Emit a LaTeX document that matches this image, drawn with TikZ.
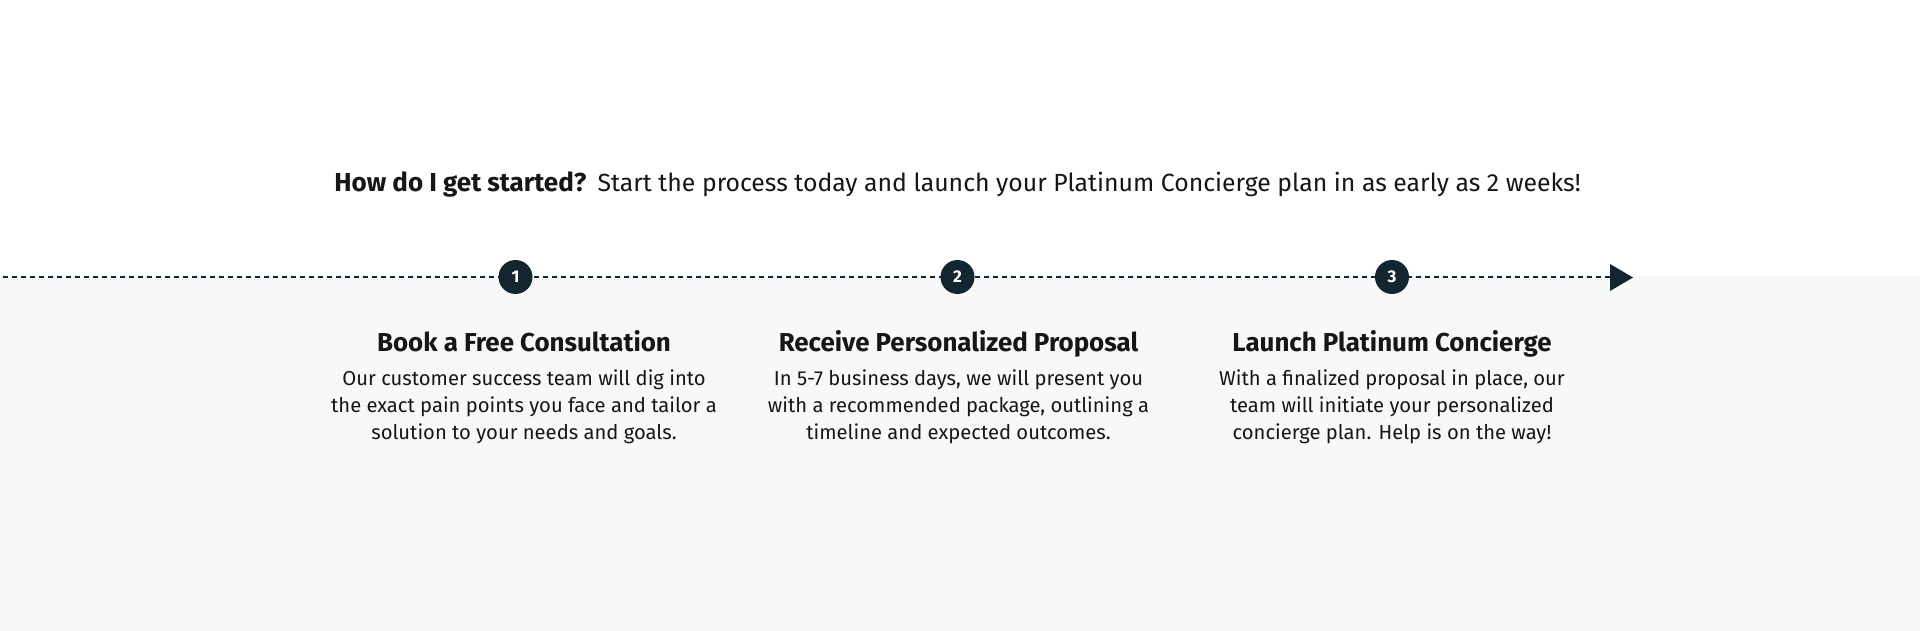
\documentclass[tikz,border=0pt]{standalone}
\usepackage{fontspec}
\setmainfont{Fira Sans}
\usetikzlibrary{positioning}
\definecolor{ink}{HTML}{161616}
\definecolor{navy}{HTML}{13262F}
\definecolor{pale}{HTML}{F7F9F9}
\begin{document}
\begin{tikzpicture}[x=1pt,y=-1pt,
  title/.style={font=\fontsize{24.8}{29}\selectfont, text=ink, inner sep=0pt, anchor=base},
  head/.style={font=\bfseries\fontsize{25.9}{30}\selectfont, text=ink, inner sep=0pt, anchor=base},
  body/.style={font=\fontsize{20.2}{27.2}\selectfont, text=ink, align=center, inner sep=0pt, anchor=north},
  stepdot/.style={circle, fill=navy, minimum size=34pt, inner sep=0pt, text=white, font=\bfseries\fontsize{17}{17}\selectfont},
  timeline/.style={draw=navy, line width=2pt, dash pattern=on 5pt off 4pt}
]
\useasboundingbox (0,0) rectangle (1920,631);
\fill[white] (0,0) rectangle (1920,631);
\fill[pale] (0,276) rectangle (1920,631);

\node[title] (t) at (957.5,191.5) {{\bfseries\fontsize{26}{29}\selectfont How do I get started?}\hspace{0.45em}Start the process today and launch your Platinum Concierge plan in as early as 2 weeks!};

\coordinate (start) at (3,277);
\coordinate (tipbase) at (1610,277);
\draw[timeline] (start) -- (tipbase);
\fill[navy] (1610,264) -- (1633,277.5) -- (1610,291) -- cycle;

\node[stepdot] (c1) at (515.5,277) {1};
\node[stepdot] (c2) at (957.5,277) {2};
\node[stepdot] (c3) at (1392,277) {3};

\node[head] (h1) at (524,351) {Book a Free Consultation};
\node[head] (h2) at (958.5,351) {Receive Personalized Proposal};
\node[head] (h3) at (1392,351) {Launch Platinum Concierge};

\node[body] (b1) at (524,369.2) {Our customer success team will dig into\\the exact pain points you face and tailor a\\solution to your needs and goals.};
\node[body] (b2) at (958.5,369.2) {In 5-7 business days, we will present you\\with a recommended package, outlining a\\timeline and expected outcomes.};
\node[body] (b3) at (1392,369.2) {With a finalized proposal in place, our\\team will initiate your personalized\\concierge plan. Help is on the way!};
\end{tikzpicture}
\end{document}
